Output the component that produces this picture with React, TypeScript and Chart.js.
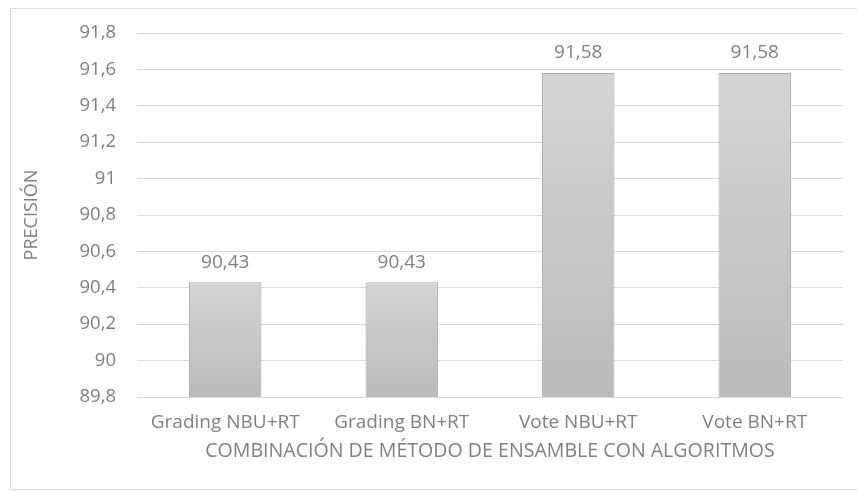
import React, { useEffect, useRef } from "react";
import { Chart, registerables } from "chart.js";

Chart.register(...registerables);

const categories = ["Grading NBU+RT", "Grading BN+RT", "Vote NBU+RT", "Vote BN+RT"];
const precision = [90.43, 90.43, 91.58, 91.58];
const yMin = 89.8;
const yMax = 91.8;
const yStep = 0.2;
const xTitle = "COMBINACIÓN DE MÉTODO DE ENSAMBLE CON ALGORITMOS";
const yTitle = "PRECISIÓN";

const FONT = "'Open Sans', 'Noto Sans', sans-serif";
const TEXT = "#7f7f7f";
const GRID = "#d9d9d9";

const fmt = (v: number, digits: number) =>
  String(parseFloat(v.toFixed(digits))).replace(".", ",");

const framePlugin = {
  id: "frame",
  beforeDraw(chart: any) {
    const ctx = chart.ctx;
    ctx.save();
    ctx.fillStyle = "#ffffff";
    ctx.fillRect(0, 0, chart.width, chart.height);
    ctx.strokeStyle = GRID;
    ctx.lineWidth = 1;
    ctx.beginPath();
    ctx.moveTo(chart.width + 2, 8.5);
    ctx.lineTo(10.5, 8.5);
    ctx.lineTo(10.5, 489.5);
    ctx.lineTo(chart.width + 2, 489.5);
    ctx.stroke();
    ctx.restore();
  },
};

const labelPlugin = {
  id: "valueLabels",
  afterDatasetsDraw(chart: any) {
    const ctx = chart.ctx;
    const meta = chart.getDatasetMeta(0);
    ctx.save();
    ctx.font = `19px ${FONT}`;
    ctx.fillStyle = TEXT;
    ctx.textAlign = "center";
    ctx.textBaseline = "middle";
    meta.data.forEach((bar: any, i: number) => {
      const v = chart.data.datasets[0].data[i] as number;
      ctx.fillText(fmt(v, 2), bar.x, bar.y - 20);
    });
    ctx.restore();
  },
};

export default function App() {
  const ref = useRef<HTMLCanvasElement | null>(null);

  useEffect(() => {
    if (!ref.current) return;
    const chart = new Chart(ref.current, {
      type: "bar",
      data: {
        labels: categories,
        datasets: [
          {
            data: precision,
            backgroundColor: (c: any) => {
              const ch = c.chart;
              const ys = ch.scales?.y;
              if (!ys || c.raw == null) return "#c8c8c8";
              const top = ys.getPixelForValue(c.raw);
              const bottom = ys.getPixelForValue(yMin);
              if (!isFinite(top) || !isFinite(bottom) || top === bottom) return "#c8c8c8";
              const g = ch.ctx.createLinearGradient(0, top, 0, bottom);
              g.addColorStop(0, "#d4d4d4");
              g.addColorStop(1, "#bababa");
              return g;
            },
            borderColor: "#a5a5a5",
            borderWidth: 1,
            borderSkipped: "bottom",
            categoryPercentage: 1,
            barPercentage: 0.41,
          },
        ],
      },
      options: {
        animation: false,
        responsive: true,
        maintainAspectRatio: false,
        layout: { padding: { left: 10, right: 14, top: 33, bottom: 0 } },
        plugins: {
          legend: { display: false },
          tooltip: { enabled: false },
        },
        scales: {
          x: {
            grid: { display: false, drawTicks: false },
            border: { display: false },
            ticks: {
              color: TEXT,
              font: { family: FONT, size: 19 },
              padding: 14,
              maxRotation: 0,
              autoSkip: false,
            },
            title: {
              display: true,
              text: xTitle,
              color: TEXT,
              font: { family: FONT, size: 19.6 },
              padding: { top: 0, bottom: 28 },
            },
            afterFit: (s: any) => {
              s.height = 94;
            },
          },
          y: {
            min: yMin,
            max: yMax,
            grid: { color: GRID, lineWidth: 1, drawTicks: false },
            border: { display: false },
            ticks: {
              stepSize: yStep,
              color: TEXT,
              font: { family: FONT, size: 18.5 },
              padding: 21,
              callback: (v: any) => fmt(Number(v), 1),
            },
            title: {
              display: true,
              text: yTitle,
              color: TEXT,
              font: { family: FONT, size: 18 },
              padding: { top: 11, bottom: 0 },
            },
            afterFit: (s: any) => {
              s.width = 127;
            },
          },
        },
      },
      plugins: [framePlugin, labelPlugin],
    });
    return () => chart.destroy();
  }, []);

  return (
    <div
      style={{
        position: "fixed",
        left: 0,
        top: 0,
        width: 857,
        height: 491,
        background: "#fff",
      }}
    >
      <canvas ref={ref} />
    </div>
  );
}
